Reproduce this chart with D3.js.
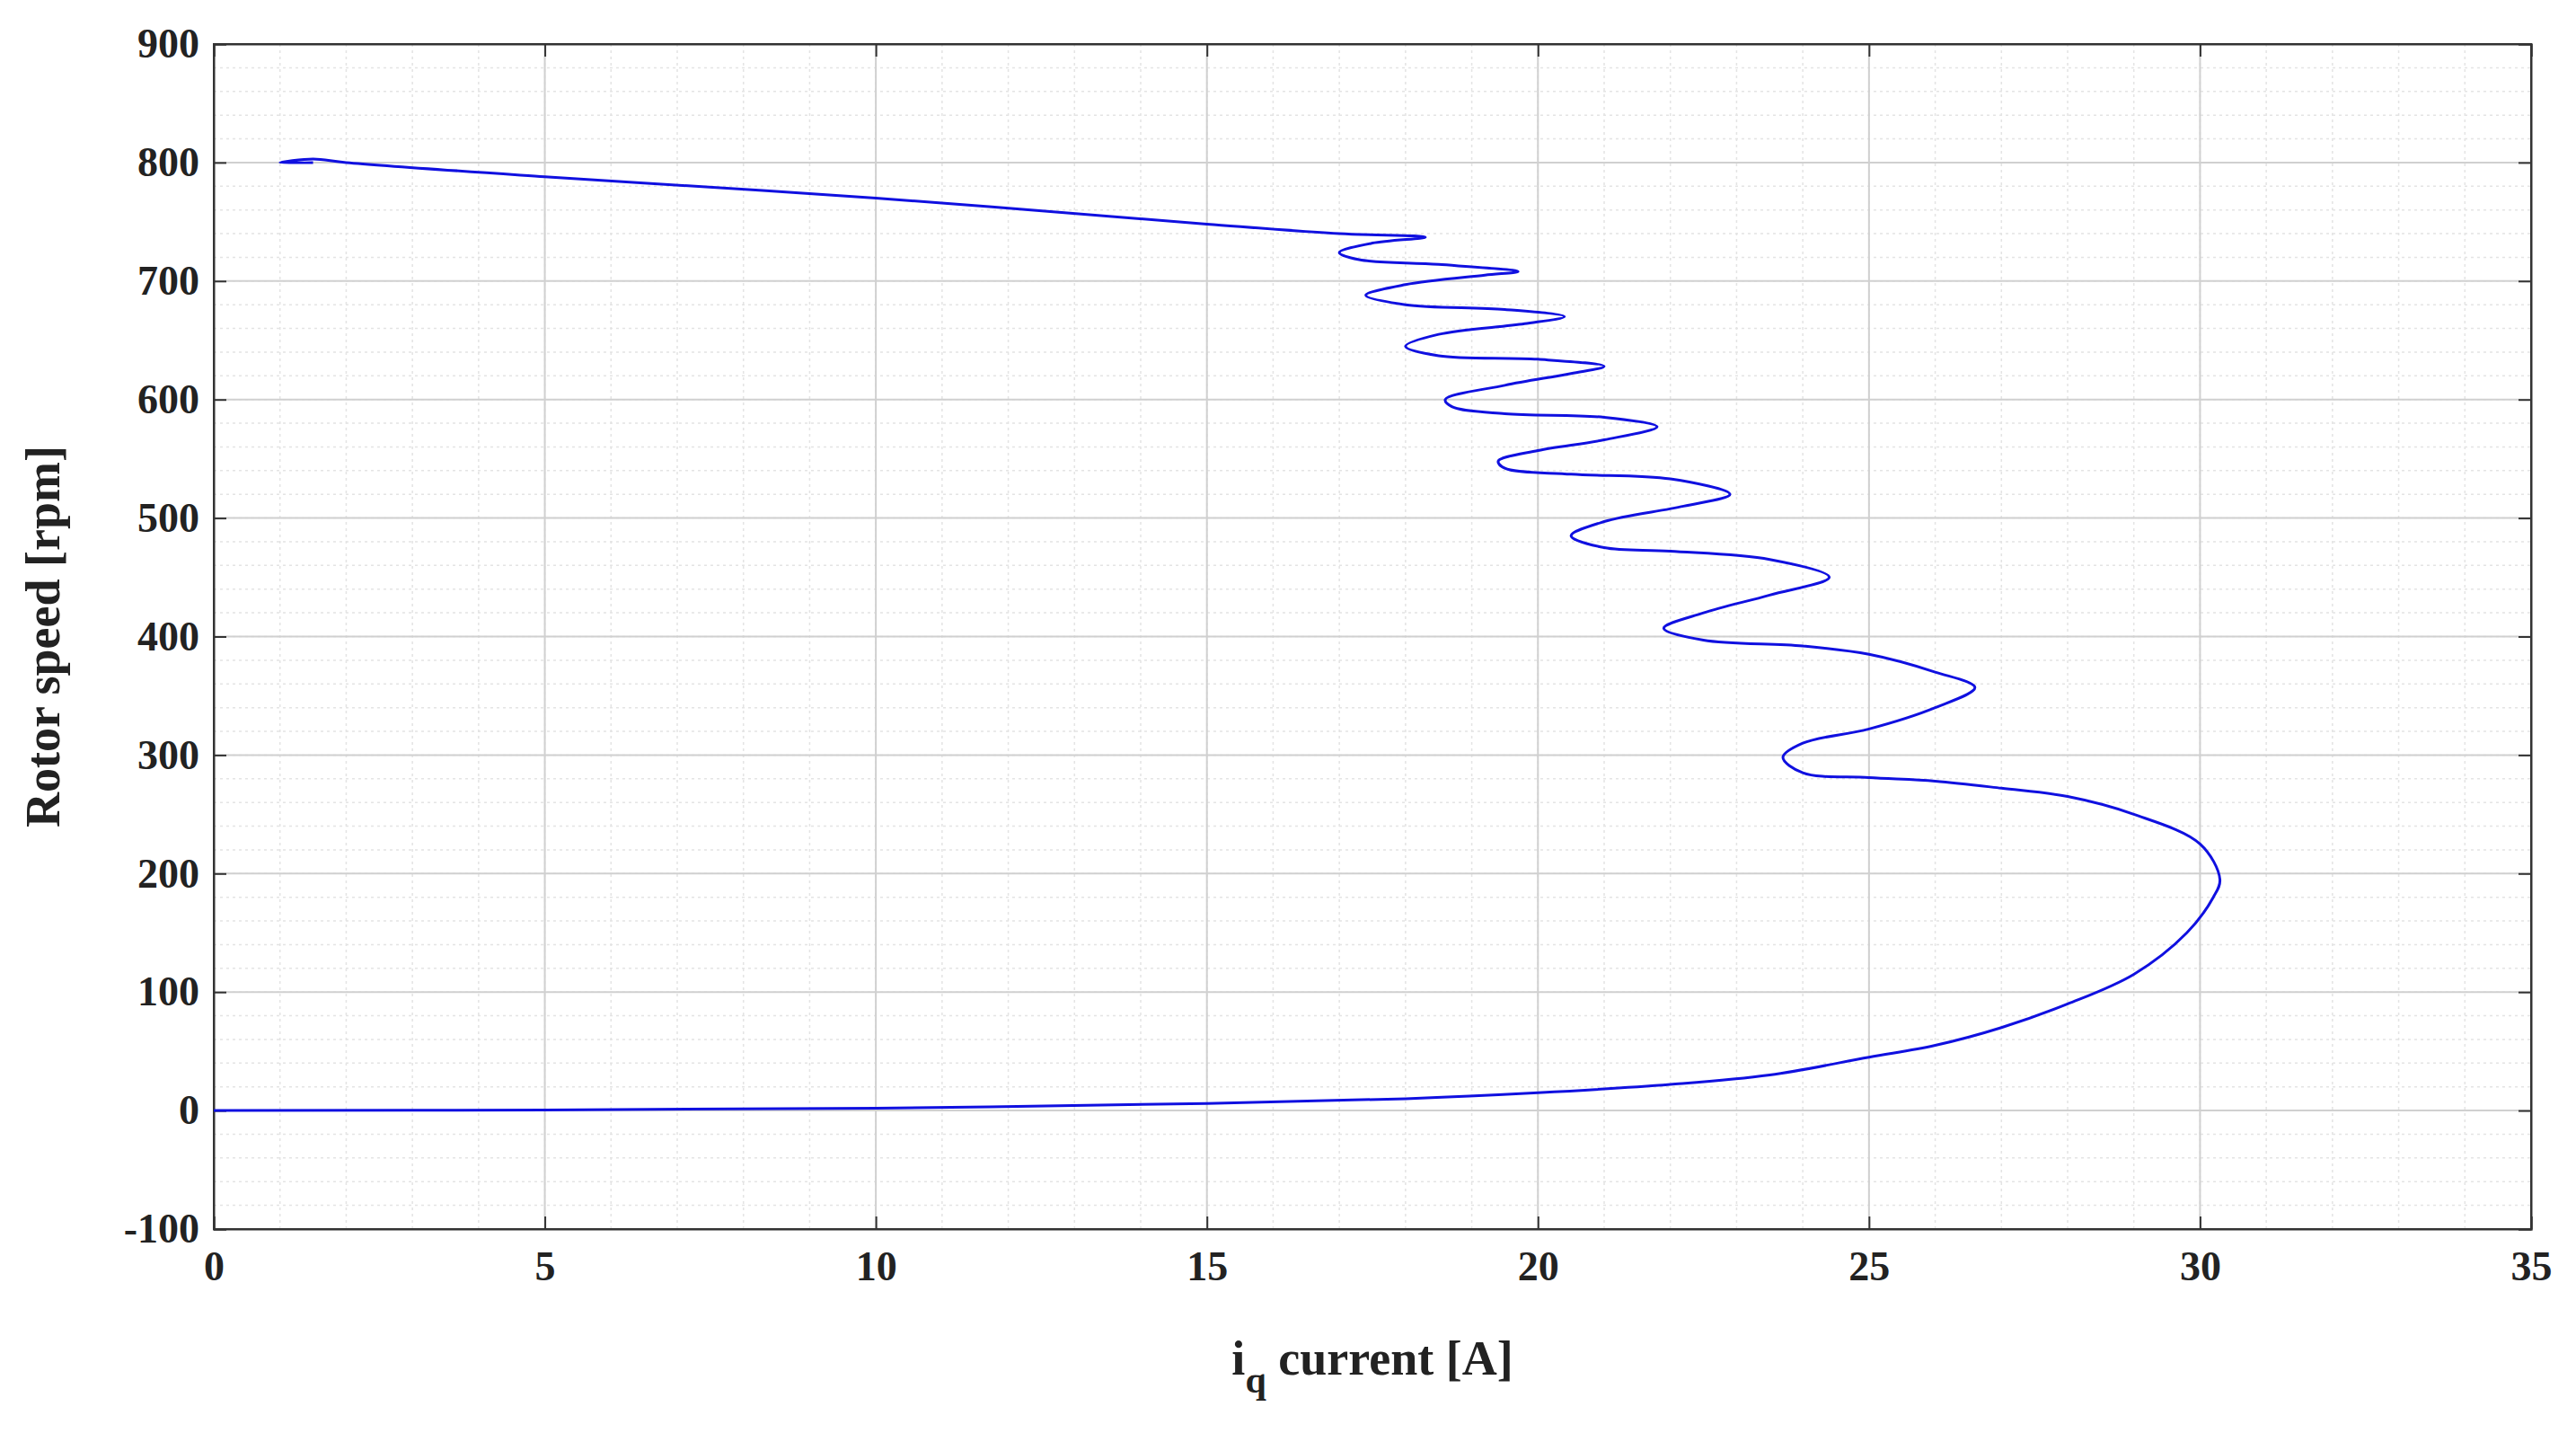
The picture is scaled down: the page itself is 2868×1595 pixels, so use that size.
<!DOCTYPE html>
<html><head><meta charset="utf-8">
<script src="https://cdn.jsdelivr.net/npm/d3@7"></script>
<style>body{margin:0;background:#fff}text{font-family:"Liberation Serif",serif;font-weight:bold}</style>
</head><body><svg id="chart" width="2868" height="1595"></svg>
<script>
// iq current [A] vs rotor speed [rpm]
var iq = [0,5,10,15,18,20,22,23.5,25,26,27,28,29,29.8,30.2,30.3,30,29,28,27,26,25,24,23.7,24,25,26,26.6,26,25,24,22.5,21.9,22.5,23.5,24.4,23.5,22,21,20.5,21,22.2,22.9,22,20.5,19.5,19.4,20,21,21.8,21,19.5,18.7,18.6,19.5,20.5,21,20,18.5,18,18.5,19.8,20.4,19.5,18,17.4,18,19.2,19.7,18.5,17.3,17,17.5,18.3,17,15,10,5,2,1.5,1,1.5];
var speed = [0,0.5,2,6,10,15,22,30,45,55,70,90,115,150,180,195,225,250,265,272,278,281,285,298,310,322,340,357,370,385,392,397,407,420,435,450,465,472,475,485,497,510,520,533,537,542,548,557,566,577,585,588,594,600,612,622,628,634,637,645,655,664,670,676,680,688,697,705,708,714,718,724,732,737,740,748,770,788,800,803,800,800];
var xTicks = [0,5,10,15,20,25,30,35];
var yTicks = [-100,0,100,200,300,400,500,600,700,800,900];

var svg = d3.select("#chart");
var L = 238, R = 2818, T = 49, B = 1368;
var x = d3.scaleLinear().domain([0,35]).range([L,R]);
var y = d3.scaleLinear().domain([-100,900]).range([B,T]);

// minor grid
var g = svg.append("g");
g.selectAll(".mx").data(d3.range(0,35.01,1)).enter().append("line")
  .attr("x1",d=>x(d)).attr("x2",d=>x(d)).attr("y1",T).attr("y2",B)
  .attr("stroke","#e4e4e4").attr("stroke-width",1.5).attr("stroke-dasharray","3,4");
g.selectAll(".my").data(d3.range(-100,900.1,20)).enter().append("line")
  .attr("y1",d=>y(d)).attr("y2",d=>y(d)).attr("x1",L).attr("x2",R)
  .attr("stroke","#e4e4e4").attr("stroke-width",1.5).attr("stroke-dasharray","3,4");
// major grid
g.selectAll(".Mx").data(xTicks).enter().append("line")
  .attr("x1",d=>x(d)).attr("x2",d=>x(d)).attr("y1",T).attr("y2",B)
  .attr("stroke","#d0d0d0").attr("stroke-width",2);
g.selectAll(".My").data(yTicks).enter().append("line")
  .attr("y1",d=>y(d)).attr("y2",d=>y(d)).attr("x1",L).attr("x2",R)
  .attr("stroke","#d0d0d0").attr("stroke-width",2);

svg.append("rect").attr("x",L).attr("y",T).attr("width",R-L).attr("height",B-T)
  .attr("fill","none").attr("stroke","#333").attr("stroke-width",2);

var fmt = d => String(d);
var xa = svg.append("g").attr("transform","translate(0,"+B+")")
  .call(d3.axisBottom(x).tickValues(xTicks).tickFormat(fmt).tickSize(-14).tickPadding(24));
var xa2 = svg.append("g").attr("transform","translate(0,"+T+")")
  .call(d3.axisTop(x).tickValues(xTicks).tickSize(-14).tickFormat(""));
var ya = svg.append("g").attr("transform","translate("+L+",0)")
  .call(d3.axisLeft(y).tickValues(yTicks).tickFormat(fmt).tickSize(-14).tickPadding(16));
var ya2 = svg.append("g").attr("transform","translate("+R+",0)")
  .call(d3.axisRight(y).tickValues(yTicks).tickSize(-14).tickFormat(""));
[xa,xa2,ya,ya2].forEach(function(a){
  a.select(".domain").attr("stroke","#333").attr("stroke-width",2);
  a.selectAll(".tick line").attr("stroke","#333").attr("stroke-width",2);
  a.selectAll("text").attr("font-size",46).attr("fill","#222")
   .attr("font-family","Liberation Serif").attr("font-weight","bold");
});

var line = d3.line().x(d=>x(d[0])).y(d=>y(d[1])).curve(d3.curveCatmullRom.alpha(0.5));
svg.append("path").datum(d3.zip(iq,speed)).attr("d",line)
  .attr("fill","none").attr("stroke","#1010e0").attr("stroke-width",3);

var xl = svg.append("text").attr("x",(L+R)/2).attr("y",1530).attr("text-anchor","middle")
  .attr("font-size",54).attr("fill","#222");
xl.append("tspan").text("i");
xl.append("tspan").attr("dy",20).attr("font-size",42).text("q");
xl.append("tspan").attr("dy",-20).text(" current [A]");
svg.append("text").attr("transform","translate(66,"+((T+B)/2)+") rotate(-90)")
  .attr("text-anchor","middle").attr("font-size",54).attr("fill","#222").text("Rotor speed [rpm]");
</script></body></html>
